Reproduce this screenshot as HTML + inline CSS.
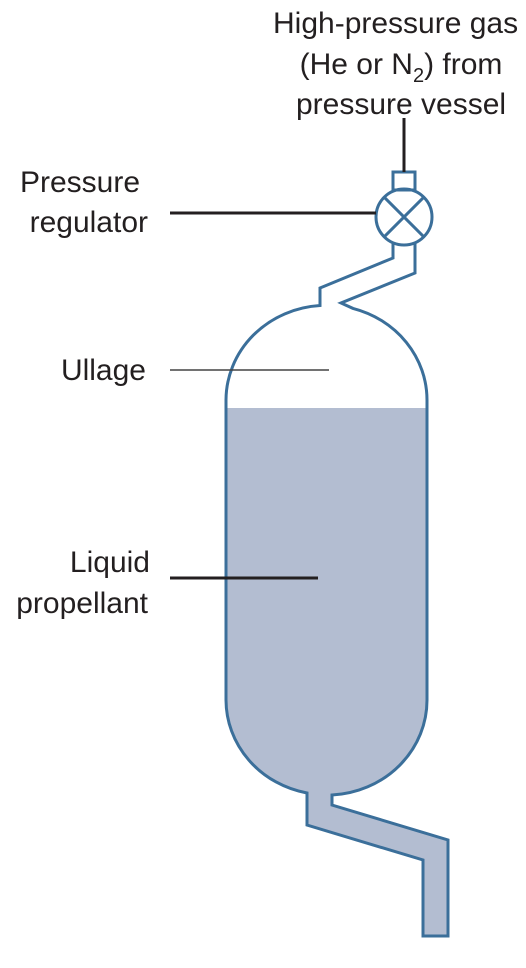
<!DOCTYPE html>
<html><head><meta charset="utf-8"><style>
html,body{margin:0;padding:0;background:#fff;overflow:hidden;}
svg{display:block;}
text{font-family:"Liberation Sans",sans-serif;font-size:30px;fill:#231f20;}
</style></head><body>
<svg width="526" height="968" viewBox="0 0 526 968">
<defs><clipPath id="liq"><rect x="0" y="408" width="526" height="560"/></clipPath></defs>
<g>
<path clip-path="url(#liq)" fill="#b3bdd1" d="M226,400 A100.5,95 0 0 1 427,400 L427,700 A100.5,95 0 0 1 332,795 L332,805 L448,840 L448,936 L423,936 L423,860 L307,825 L307,793 A100.5,95 0 0 1 226,700 Z"/>
</g>
<g fill="none" stroke="#3b6f9a" stroke-width="3" stroke-linejoin="miter">
<path d="M393,242.7 L393,258 L320,288 L320,305.5 A100.5,95 0 0 0 226,400 L226,700 A100.5,95 0 0 0 307,793 L307,825 L423,860 L423,936 L448,936 L448,840 L332,805 L332,795 A100.5,95 0 0 0 427,700 L427,400 A100.5,95 0 0 0 353,308.4 L341,303 L415,273 L415,242.7"/>
<circle cx="404" cy="217" r="28"/>
<path d="M384.2,197.2 L423.8,236.8 M423.8,197.2 L384.2,236.8"/>
<rect x="393" y="172" width="22" height="18"/>
</g>
<g stroke="#231f20" fill="none">
<line x1="404" y1="118" x2="404" y2="172" stroke-width="3"/>
<line x1="170" y1="213" x2="376" y2="213" stroke-width="3"/>
<line x1="170" y1="370" x2="329" y2="370" stroke-width="1.5" stroke="#444"/>
<line x1="170" y1="578" x2="318" y2="578" stroke-width="3"/>
</g>
<g>
<text x="273" y="33">High-pressure gas</text>
<text x="401" y="74" text-anchor="middle">(He or N<tspan font-size="20" dy="8">2</tspan><tspan dy="-8">) from</tspan></text>
<text x="401" y="114" text-anchor="middle">pressure vessel</text>
</g>
<g text-anchor="end">
<text x="140" y="192">Pressure</text>
<text x="148" y="232">regulator</text>
<text x="146" y="380">Ullage</text>
<text x="150" y="572">Liquid</text>
<text x="148" y="613">propellant</text>
</g>
</svg>
</body></html>
